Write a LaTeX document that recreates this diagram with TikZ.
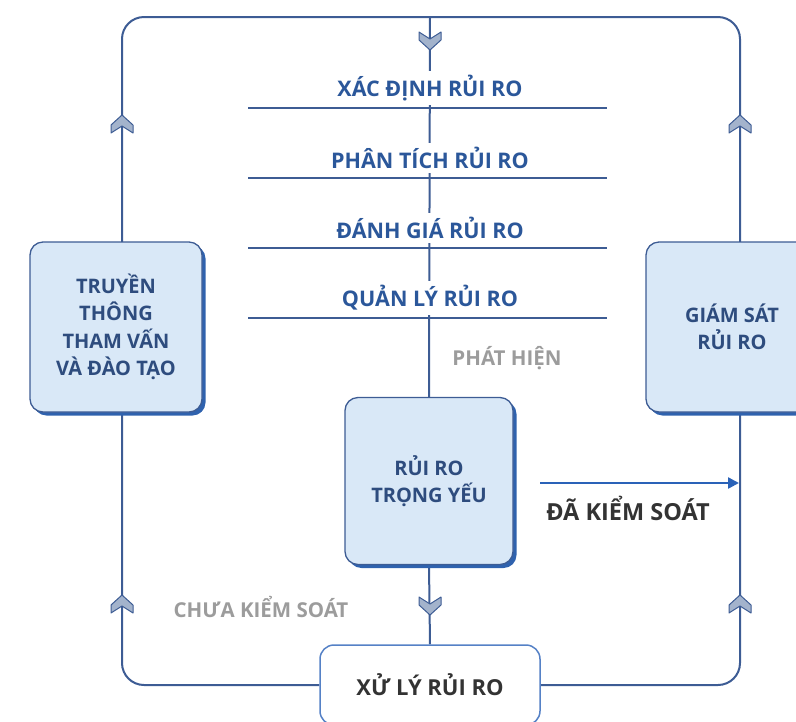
\documentclass[tikz,border=0pt]{standalone}
\usepackage{fontspec}
\setmainfont{Open Sans}
\usetikzlibrary{arrows.meta, positioning, shadows, backgrounds}
\definecolor{rrline}{HTML}{3D5C94}
\definecolor{rrtext}{HTML}{2B579A}
\definecolor{rrbox}{HTML}{D9E8F7}
\definecolor{rrboxtext}{HTML}{2E4C7E}
\definecolor{rrshadow}{HTML}{2F62AE}
\definecolor{rrgrey}{HTML}{9C9C9C}
\definecolor{rrdark}{HTML}{333333}
\definecolor{rrchev}{HTML}{A3B3CC}
\definecolor{rrarrow}{HTML}{2A62B8}

\tikzset{
  chevron/.pic={
    \draw[rrline, fill=rrchev, line width=1pt, line join=round]
      (-11,-8) -- (0,-1) -- (11,-8) -- (11,0) -- (0,10) -- (-11,0) -- cycle;
  }
}

\begin{document}
\begin{tikzpicture}[x=1pt, y=-1pt, font=\bfseries,
  boxnode/.style={draw=rrline, fill=rrbox, rounded corners=13pt, line width=1.3pt,
    align=center, text=rrboxtext, font=\fontsize{20}{27.5}\selectfont\bfseries,
    drop shadow={shadow xshift=3.5pt, shadow yshift=-3.5pt, fill=rrshadow, opacity=1}},
  stagelabel/.style={fill=white, text=rrtext, font=\fontsize{21.5}{24}\selectfont\bfseries, inner sep=4pt},
  greylabel/.style={text=rrgrey, font=\fontsize{20.5}{22}\selectfont\bfseries},
  loopline/.style={draw=rrline, line width=2pt}]
  \useasboundingbox (0,0) rectangle (796,721);
  \clip (0,0) rectangle (796,721);
  % boxes
  \node[boxnode, minimum width=172pt, minimum height=170pt] (truyen) at (116,327)
    {TRUYỀN\\THÔNG\\THAM VẤN\\VÀ ĐÀO TẠO};
  \node[boxnode, minimum width=172pt, minimum height=170pt] (giamsat) at (732,327)
    {GIÁM SÁT\\RỦI RO};
  \node[boxnode, minimum width=168pt, minimum height=167pt] (rro) at (429,481)
    {RỦI RO\\TRỌNG YẾU};
  \node[draw=rrarrow!80, fill=white, rounded corners=14pt, line width=1.5pt,
        minimum width=220pt, minimum height=80pt, text=rrdark,
        font=\fontsize{22}{24}\selectfont\bfseries] (xuly) at (430,685) {XỬ LÝ RỦI RO};
  % loop and centre line
  \coordinate (topmid) at (430,17);
  \begin{scope}[on background layer]
    \draw[loopline, rounded corners=22pt] (xuly.west) -- (122,685) -- (122,17)
      -- (740,17) -- (740,685) -- (xuly.east);
    \draw[loopline] (topmid) -- (rro.north);
    \draw[loopline] (rro.south) -- (xuly.north);
  \end{scope}
  % stages
  \foreach \i/\name in {0/{XÁC ĐỊNH RỦI RO}, 1/{PHÂN TÍCH RỦI RO},
                        2/{ĐÁNH GIÁ RỦI RO}, 3/{QUẢN LÝ RỦI RO}}
  {
    \pgfmathsetmacro{\yy}{88+\i*70}
    \node[stagelabel] (stage\i) at (430,\yy) {\name};
    \draw[rrline, line width=1.8pt] (248,\yy+20) -- (607,\yy+20);
  }
  % labels
  \node[greylabel] (phathien) at (507,358) {PHÁT HIỆN};
  \node[greylabel] (chuaks) at (261,607) {CHƯA KIỂM SOÁT};
  \node[text=rrdark, font=\fontsize{23.5}{26}\selectfont\bfseries] (daks) at (628,508) {ĐÃ KIỂM SOÁT};
  \coordinate (dastart) at (540,483);
  \coordinate (daend) at (739,483);
  \draw[rrarrow, line width=2.4pt, -{Triangle[length=11pt, width=11pt]}] (dastart) -- (daend);
  % chevrons
  \foreach \cx/\cy in {430/40, 430/605}
    \pic at (\cx,\cy) {chevron};
  \foreach \cx/\cy in {122/125, 122/605, 740/125, 740/605}
    \pic[rotate=180] at (\cx,\cy) {chevron};
\end{tikzpicture}
\end{document}
